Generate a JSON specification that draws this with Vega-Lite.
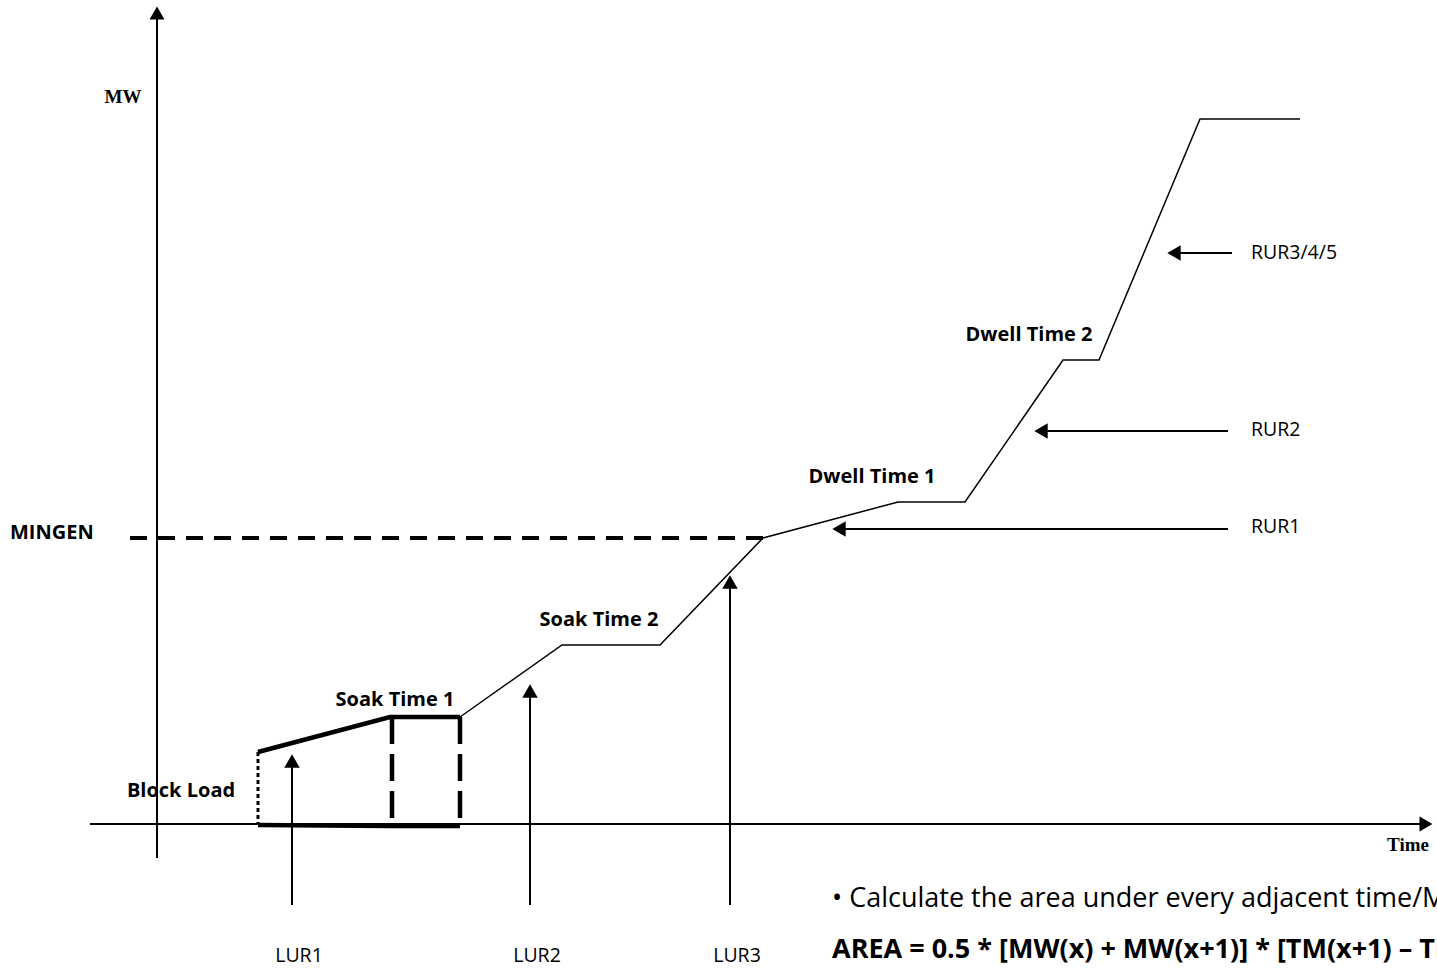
{
  "$schema": "https://vega.github.io/schema/vega-lite/v6.json",
  "width": 1437,
  "height": 970,
  "padding": 0,
  "autosize": {"type": "none"},
  "config": {"view": {"stroke": null}, "background": "white"},
  "datasets": {
    "segs": [
      {"s": "yaxis", "k": "axis", "i": 0, "x": 157, "y": 858},
      {"s": "yaxis", "k": "axis", "i": 1, "x": 157, "y": 18},
      {"s": "xaxis", "k": "axis", "i": 0, "x": 90, "y": 824},
      {"s": "xaxis", "k": "axis", "i": 1, "x": 1422, "y": 824},
      {"s": "profile", "k": "thin", "i": 0, "x": 460, "y": 717},
      {"s": "profile", "k": "thin", "i": 1, "x": 562, "y": 645},
      {"s": "profile", "k": "thin", "i": 2, "x": 660, "y": 645},
      {"s": "profile", "k": "thin", "i": 3, "x": 763, "y": 538},
      {"s": "profile", "k": "thin", "i": 4, "x": 898, "y": 502},
      {"s": "profile", "k": "thin", "i": 5, "x": 965, "y": 502},
      {"s": "profile", "k": "thin", "i": 6, "x": 1063, "y": 360},
      {"s": "profile", "k": "thin", "i": 7, "x": 1099, "y": 360},
      {"s": "profile", "k": "thin", "i": 8, "x": 1200, "y": 119},
      {"s": "profile", "k": "thin", "i": 9, "x": 1300, "y": 119},
      {"s": "lur1", "k": "axis", "i": 0, "x": 292, "y": 905},
      {"s": "lur1", "k": "axis", "i": 1, "x": 292, "y": 765},
      {"s": "lur2", "k": "axis", "i": 0, "x": 530, "y": 905},
      {"s": "lur2", "k": "axis", "i": 1, "x": 530, "y": 693},
      {"s": "lur3", "k": "axis", "i": 0, "x": 730, "y": 905},
      {"s": "lur3", "k": "axis", "i": 1, "x": 730, "y": 585},
      {"s": "rur345", "k": "axis", "i": 0, "x": 1232, "y": 253},
      {"s": "rur345", "k": "axis", "i": 1, "x": 1178, "y": 253},
      {"s": "rur2", "k": "axis", "i": 0, "x": 1228, "y": 431},
      {"s": "rur2", "k": "axis", "i": 1, "x": 1044, "y": 431},
      {"s": "rur1", "k": "axis", "i": 0, "x": 1228, "y": 529},
      {"s": "rur1", "k": "axis", "i": 1, "x": 843, "y": 529},
      {"s": "blocktop", "k": "thick", "i": 0, "x": 258, "y": 752},
      {"s": "blocktop", "k": "thick", "i": 1, "x": 390, "y": 717},
      {"s": "blocktop", "k": "thick", "i": 2, "x": 460, "y": 717},
      {"s": "blockbot", "k": "thick", "i": 0, "x": 258, "y": 825},
      {"s": "blockbot", "k": "thick", "i": 1, "x": 390, "y": 826},
      {"s": "blockbot", "k": "thick", "i": 2, "x": 460, "y": 826},
      {"s": "mingen", "k": "mingen", "i": 0, "x": 130, "y": 538},
      {"s": "mingen", "k": "mingen", "i": 1, "x": 763, "y": 538},
      {"s": "blockv", "k": "dot", "i": 0, "x": 258, "y": 752},
      {"s": "blockv", "k": "dot", "i": 1, "x": 258, "y": 824},
      {"s": "soak1a", "k": "ldash", "i": 0, "x": 392, "y": 717},
      {"s": "soak1a", "k": "ldash", "i": 1, "x": 392, "y": 826},
      {"s": "soak1b", "k": "ldash", "i": 0, "x": 460, "y": 717},
      {"s": "soak1b", "k": "ldash", "i": 1, "x": 460, "y": 826}
    ],
    "heads": [
      {"x": 157, "y": 13, "shape": "triangle-up", "sz": 225},
      {"x": 1426, "y": 824, "shape": "triangle-right", "sz": 225},
      {"x": 292, "y": 761, "shape": "triangle-up", "sz": 240},
      {"x": 530, "y": 691, "shape": "triangle-up", "sz": 240},
      {"x": 730, "y": 582, "shape": "triangle-up", "sz": 240},
      {"x": 1174, "y": 253, "shape": "triangle-left", "sz": 240},
      {"x": 1041, "y": 431, "shape": "triangle-left", "sz": 240},
      {"x": 839, "y": 529, "shape": "triangle-left", "sz": 240}
    ],
    "labels": [
      {"t": "MW", "f": "serif", "x": 123, "y": 97},
      {"t": "Time", "f": "serif", "x": 1408, "y": 845},
      {"t": "MINGEN", "f": "boldl", "x": 10, "y": 533},
      {"t": "Block Load", "f": "boldc", "x": 181, "y": 791},
      {"t": "Soak Time 1", "f": "boldc", "x": 395, "y": 700},
      {"t": "Soak Time 2", "f": "boldc", "x": 599, "y": 620},
      {"t": "Dwell Time 1", "f": "boldc", "x": 872, "y": 477},
      {"t": "Dwell Time 2", "f": "boldc", "x": 1029, "y": 335},
      {"t": "RUR3/4/5", "f": "plainl", "x": 1251, "y": 253},
      {"t": "RUR2", "f": "plainl", "x": 1251, "y": 430},
      {"t": "RUR1", "f": "plainl", "x": 1251, "y": 527},
      {"t": "LUR1", "f": "plainc", "x": 299, "y": 956},
      {"t": "LUR2", "f": "plainc", "x": 537, "y": 956},
      {"t": "LUR3", "f": "plainc", "x": 737, "y": 956},
      {"t": "• Calculate the area under every adjacent time/MW point", "f": "note", "x": 832, "y": 899},
      {"t": "AREA = 0.5 * [MW(x) + MW(x+1)] * [TM(x+1) – TM(x)]", "f": "notebold", "x": 832, "y": 950}
    ]
  },
  "encoding": {
    "x": {"field": "x", "type": "quantitative", "scale": {"domain": [0, 1437], "nice": false, "zero": false}, "axis": null},
    "y": {"field": "y", "type": "quantitative", "scale": {"domain": [0, 970], "nice": false, "zero": false, "reverse": true}, "axis": null}
  },
  "layer": [
    {
      "data": {"name": "segs"},
      "transform": [{"filter": "datum.k == 'axis'"}],
      "mark": {"type": "line", "color": "black", "strokeWidth": 2},
      "encoding": {"detail": {"field": "s"}, "order": {"field": "i", "type": "quantitative"}}
    },
    {
      "data": {"name": "segs"},
      "transform": [{"filter": "datum.k == 'thin'"}],
      "mark": {"type": "line", "color": "black", "strokeWidth": 1.5},
      "encoding": {"detail": {"field": "s"}, "order": {"field": "i", "type": "quantitative"}}
    },
    {
      "data": {"name": "segs"},
      "transform": [{"filter": "datum.k == 'thick'"}],
      "mark": {"type": "line", "color": "black", "strokeWidth": 4.5, "strokeJoin": "miter"},
      "encoding": {"detail": {"field": "s"}, "order": {"field": "i", "type": "quantitative"}}
    },
    {
      "data": {"name": "segs"},
      "transform": [{"filter": "datum.k == 'mingen'"}],
      "mark": {"type": "line", "color": "black", "strokeWidth": 4, "strokeDash": [17, 11]},
      "encoding": {"detail": {"field": "s"}, "order": {"field": "i", "type": "quantitative"}}
    },
    {
      "data": {"name": "segs"},
      "transform": [{"filter": "datum.k == 'dot'"}],
      "mark": {"type": "line", "color": "black", "strokeWidth": 3, "strokeDash": [4, 3]},
      "encoding": {"detail": {"field": "s"}, "order": {"field": "i", "type": "quantitative"}}
    },
    {
      "data": {"name": "segs"},
      "transform": [{"filter": "datum.k == 'ldash'"}],
      "mark": {"type": "line", "color": "black", "strokeWidth": 4.5, "strokeDash": [27, 10]},
      "encoding": {"detail": {"field": "s"}, "order": {"field": "i", "type": "quantitative"}}
    },
    {
      "data": {"name": "heads"},
      "mark": {"type": "point", "filled": true, "color": "black", "opacity": 1, "strokeWidth": 0},
      "encoding": {
        "shape": {"field": "shape", "type": "nominal", "scale": null},
        "size": {"field": "sz", "type": "quantitative", "scale": null}
      }
    },
    {
      "data": {"name": "labels"},
      "transform": [{"filter": "datum.f == 'serif'"}],
      "mark": {"type": "text", "font": "Liberation Serif", "fontWeight": "bold", "fontSize": 19, "baseline": "middle", "align": "center", "color": "black"},
      "encoding": {"text": {"field": "t"}}
    },
    {
      "data": {"name": "labels"},
      "transform": [{"filter": "datum.f == 'boldc'"}],
      "mark": {"type": "text", "font": "Open Sans", "fontWeight": "bold", "fontSize": 20, "baseline": "middle", "align": "center", "color": "black"},
      "encoding": {"text": {"field": "t"}}
    },
    {
      "data": {"name": "labels"},
      "transform": [{"filter": "datum.f == 'boldl'"}],
      "mark": {"type": "text", "font": "Open Sans", "fontWeight": "bold", "fontSize": 20, "baseline": "middle", "align": "left", "color": "black"},
      "encoding": {"text": {"field": "t"}}
    },
    {
      "data": {"name": "labels"},
      "transform": [{"filter": "datum.f == 'plainc'"}],
      "mark": {"type": "text", "font": "Open Sans", "fontSize": 19.5, "baseline": "middle", "align": "center", "color": "black"},
      "encoding": {"text": {"field": "t"}}
    },
    {
      "data": {"name": "labels"},
      "transform": [{"filter": "datum.f == 'plainl'"}],
      "mark": {"type": "text", "font": "Open Sans", "fontSize": 19.5, "baseline": "middle", "align": "left", "color": "black"},
      "encoding": {"text": {"field": "t"}}
    },
    {
      "data": {"name": "labels"},
      "transform": [{"filter": "datum.f == 'note'"}],
      "mark": {"type": "text", "font": "Open Sans", "fontSize": 27, "baseline": "middle", "align": "left", "color": "black"},
      "encoding": {"text": {"field": "t"}}
    },
    {
      "data": {"name": "labels"},
      "transform": [{"filter": "datum.f == 'notebold'"}],
      "mark": {"type": "text", "font": "Open Sans", "fontWeight": "bold", "fontSize": 27, "baseline": "middle", "align": "left", "color": "black"},
      "encoding": {"text": {"field": "t"}}
    }
  ]
}
